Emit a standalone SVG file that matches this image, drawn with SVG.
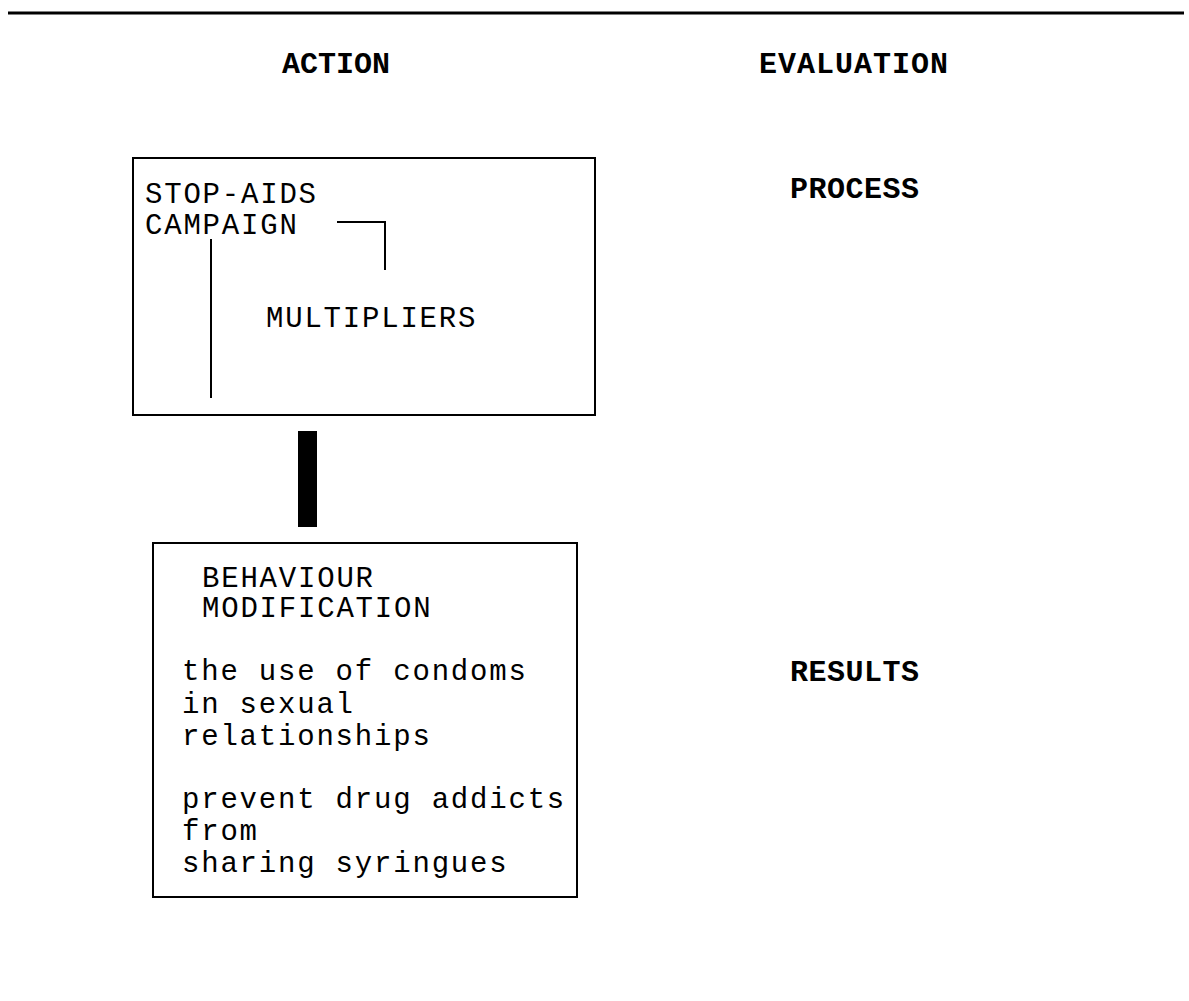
<svg xmlns="http://www.w3.org/2000/svg" width="1189" height="1001" viewBox="0 0 1189 1001">
<style>
.hd{font-family:"Liberation Mono","Courier New",monospace;font-weight:bold;font-size:30px;fill:#000}
.tx{font-family:"Liberation Mono","Courier New",monospace;font-size:29px;letter-spacing:1.8px;fill:#000}
.box{fill:none;stroke:#000;stroke-width:2}
.ln{fill:none;stroke:#000;stroke-width:2}
</style>
<rect width="1189" height="1001" fill="#fff"/>
<line x1="8" y1="13" x2="1184" y2="13" stroke="#000" stroke-width="3"/>
<g id="headers">
<text class="hd" x="282" y="73">ACTION</text>
<text class="hd" x="759" y="73" style="letter-spacing:1px">EVALUATION</text>
</g>
<g id="process"><text class="hd" x="790" y="198" style="letter-spacing:0.5px">PROCESS</text></g>
<g id="results"><text class="hd" x="790" y="681" style="letter-spacing:0.5px">RESULTS</text></g>
<g id="campaign">
<rect class="box" x="133" y="158" width="462" height="257"/>
<text class="tx" x="145" y="203">STOP-AIDS</text>
<text class="tx" x="145" y="234">CAMPAIGN</text>
<text class="tx" x="266" y="327">MULTIPLIERS</text>
<polyline class="ln" points="337,222 385,222 385,270"/>
<line class="ln" x1="211" y1="239" x2="211" y2="398"/>
</g>
<g id="connectors">
<rect x="298" y="431" width="19" height="96" fill="#000"/>
</g>
<g id="behaviour">
<rect class="box" x="153" y="543" width="424" height="354"/>
<text class="tx" x="202" y="587">BEHAVIOUR</text>
<text class="tx" x="202" y="617">MODIFICATION</text>
<text class="tx" x="182" y="680">the use of condoms</text>
<text class="tx" x="182" y="713">in sexual</text>
<text class="tx" x="182" y="745">relationships</text>
<text class="tx" x="182" y="808">prevent drug addicts</text>
<text class="tx" x="182" y="840">from</text>
<text class="tx" x="182" y="872">sharing syringues</text>
</g>
</svg>
